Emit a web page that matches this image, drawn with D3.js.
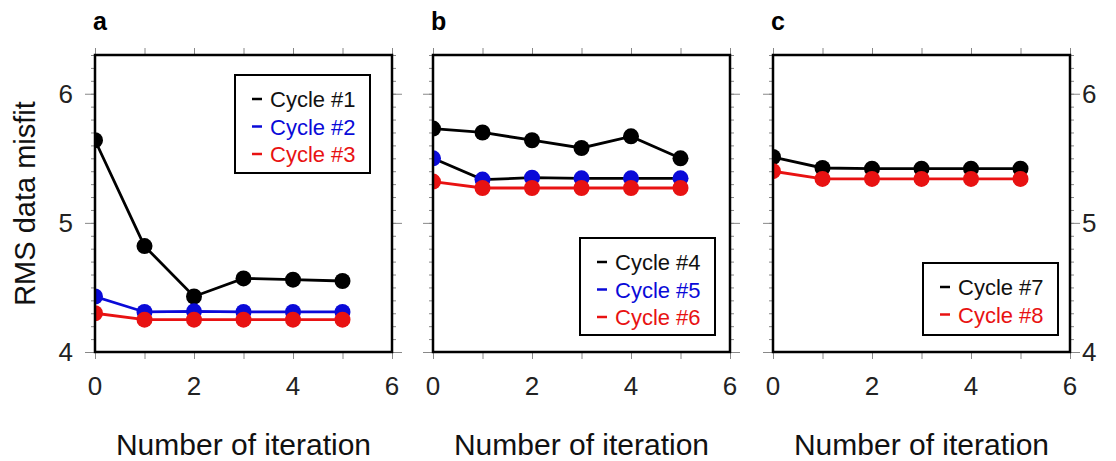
<!DOCTYPE html>
<html>
<head>
<meta charset="utf-8">
<script src="https://cdn.jsdelivr.net/npm/d3@7"></script>
<style>
  body { margin: 0; background: #fff; }
  svg { display: block; font-family: "Liberation Sans", Arial, sans-serif; }
  .tick line { stroke: #888; }
  .domain { display: none; }
</style>
</head>
<body>
<div id="graph"></div>
<script>
// data
var iterations = [0, 1, 2, 3, 4, 5]
var cycle1 = [5.64, 4.82, 4.43, 4.57, 4.56, 4.55]
var cycle2 = [4.43, 4.31, 4.315, 4.31, 4.31, 4.31]
var cycle3 = [4.30, 4.25, 4.25, 4.25, 4.25, 4.25]
var cycle4 = [5.73, 5.70, 5.64, 5.58, 5.67, 5.50]
var cycle5 = [5.50, 5.335, 5.35, 5.345, 5.345, 5.345]
var cycle6 = [5.32, 5.27, 5.27, 5.27, 5.27, 5.27]
var cycle7 = [5.51, 5.425, 5.42, 5.42, 5.42, 5.42]
var cycle8 = [5.40, 5.34, 5.34, 5.34, 5.34, 5.34]
var xTicks = [0, 2, 4, 6]
var yTicks = [4, 5, 6]
var xDomain = [0, 6]
var yDomain = [4, 6.3]

var black = "#000", blue = "#0a0ad8", red = "#e81212"

var panels = [
    {letter: "a", left: 95, yLabels: "left", legend: {x: 235, y: 75, w: 135, h: 98},
     series: [
        {name: "Cycle #1", values: cycle1, color: black, line: black},
        {name: "Cycle #2", values: cycle2, color: blue, line: blue},
        {name: "Cycle #3", values: cycle3, color: red, line: red}]},
    {letter: "b", left: 433, yLabels: "none", legend: {x: 580, y: 238, w: 135, h: 97},
     series: [
        {name: "Cycle #4", values: cycle4, color: black, line: black},
        {name: "Cycle #5", values: cycle5, color: blue, line: black},
        {name: "Cycle #6", values: cycle6, color: red, line: red}]},
    {letter: "c", left: 773, yLabels: "right", legend: {x: 923, y: 263, w: 135, h: 72},
     series: [
        {name: "Cycle #7", values: cycle7, color: black, line: black},
        {name: "Cycle #8", values: cycle8, color: red, line: red}]}
]

var W = 1116, H = 461
var plotTop = 55, height = 297, width = 297

var svg = d3.select("#graph").append("svg")
    .attr("width", W)
    .attr("height", H)

// y axis title
svg.append("text")
    .attr("transform", "translate(35," + (plotTop + height / 2) + ") rotate(-90)")
    .attr("text-anchor", "middle")
    .attr("font-size", 29)
    .attr("fill", "#111")
    .text("RMS data misfit")

panels.forEach(function(p, i) {

    var x = d3.scaleLinear().domain(xDomain).range([0, width])
    var y = d3.scaleLinear().domain(yDomain).range([height, 0])

    var g = svg.append("g")
        .attr("transform", "translate(" + p.left + "," + plotTop + ")")

    g.append("clipPath")
        .attr("id", "clip-" + i)
        .append("rect")
        .attr("width", width)
        .attr("height", height)

    // minor + major ticks on all four sides
    var minor = d3.range(40, 64).map(function(d) { return d / 10 })
    g.append("g").call(d3.axisLeft(y).tickValues(minor).tickSize(4).tickFormat(""))
    g.append("g").call(d3.axisLeft(y).tickValues(yTicks).tickSize(10).tickFormat(""))
    g.append("g").attr("transform", "translate(" + width + ",0)")
        .call(d3.axisRight(y).tickValues(minor).tickSize(4).tickFormat(""))
    g.append("g").attr("transform", "translate(" + width + ",0)")
        .call(d3.axisRight(y).tickValues(yTicks).tickSize(10).tickFormat(""))
    g.append("g").call(d3.axisTop(x).ticks(6).tickSize(7).tickFormat(""))
    g.append("g").attr("transform", "translate(0," + height + ")")
        .call(d3.axisBottom(x).ticks(6).tickSize(7).tickFormat(""))

    // tick labels
    g.selectAll(".xlab").data(xTicks).enter().append("text")
        .attr("x", function(d) { return x(d) })
        .attr("y", height + 43)
        .attr("text-anchor", "middle")
        .attr("font-size", 26)
        .attr("fill", "#222")
        .text(function(d) { return d })

    if (p.yLabels != "none") {
        g.selectAll(".ylab").data(yTicks).enter().append("text")
            .attr("x", p.yLabels == "left" ? -22 : width + 12)
            .attr("y", function(d) { return y(d) + 9 })
            .attr("text-anchor", p.yLabels == "left" ? "end" : "start")
            .attr("font-size", 26)
            .attr("fill", "#222")
            .text(function(d) { return d })
    }

    // data
    var line = d3.line()
        .x(function(d, k) { return x(iterations[k]) })
        .y(function(d) { return y(d) })

    var plot = g.append("g").attr("clip-path", "url(#clip-" + i + ")")

    p.series.forEach(function(s) {
        plot.append("path")
            .datum(s.values)
            .attr("fill", "none")
            .attr("stroke", s.line)
            .attr("stroke-width", 2.8)
            .attr("d", line)
        plot.selectAll(null).data(s.values).enter().append("circle")
            .attr("cx", function(d, k) { return x(iterations[k]) })
            .attr("cy", function(d) { return y(d) })
            .attr("r", 8)
            .attr("fill", s.color)
    })

    // frame
    g.append("rect")
        .attr("width", width)
        .attr("height", height)
        .attr("fill", "none")
        .attr("stroke", "#000")
        .attr("stroke-width", 2.5)

    // legend
    var L = p.legend
    var lg = svg.append("g").attr("transform", "translate(" + L.x + "," + L.y + ")")
    lg.append("rect")
        .attr("width", L.w)
        .attr("height", L.h)
        .attr("fill", "#fff")
        .attr("stroke", "#000")
        .attr("stroke-width", 2)
    p.series.forEach(function(s, k) {
        var yy = 24 + k * 27.5
        lg.append("line")
            .attr("x1", 17).attr("x2", 27)
            .attr("y1", yy).attr("y2", yy)
            .attr("stroke", s.color)
            .attr("stroke-width", 2.5)
        lg.append("text")
            .attr("x", 35)
            .attr("y", yy + 8)
            .attr("font-size", 22)
            .attr("fill", s.color == black ? "#111" : s.color)
            .text(s.name)
    })

    // panel letter
    svg.append("text")
        .attr("x", p.left - 2)
        .attr("y", 30)
        .attr("font-size", 25)
        .attr("font-weight", "bold")
        .text(p.letter)

    // x axis title
    svg.append("text")
        .attr("x", p.left + width / 2)
        .attr("y", 455)
        .attr("text-anchor", "middle")
        .attr("font-size", 30)
        .attr("fill", "#111")
        .text("Number of iteration")
})
</script>
</body>
</html>
